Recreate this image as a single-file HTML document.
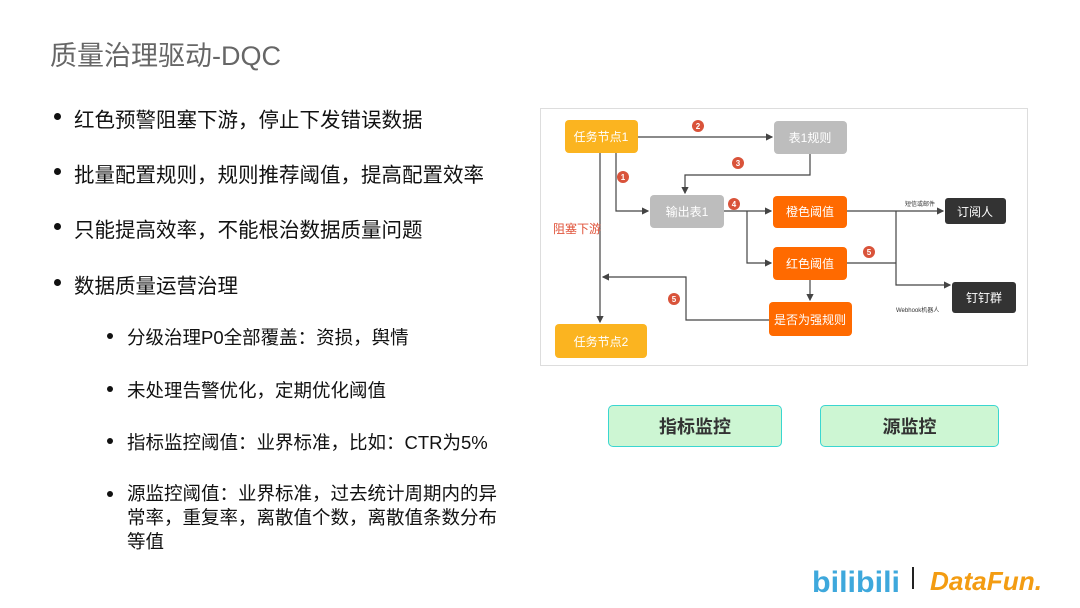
<!DOCTYPE html>
<html><head><meta charset="utf-8"><style>
body{margin:0;width:1080px;height:608px;background:#fff;position:relative;overflow:hidden;font-family:"Liberation Sans","Noto Sans CJK SC",sans-serif;}
.t{position:absolute;white-space:nowrap;color:#111;}
.h{left:50px;top:34px;font-size:27px;color:#666;}
.b{font-size:20.5px;left:74px;}
.d{position:absolute;width:7px;height:7px;border-radius:50%;background:#111;}
.s{font-size:18.5px;left:127px;}
.btn{position:absolute;height:40px;border:1.5px solid #3ad6d0;background:#cdf6d3;border-radius:5px;font-size:18px;font-weight:bold;color:#333;display:flex;align-items:center;justify-content:center;}
</style></head><body>
<div class="t h">质量治理驱动-DQC</div>
<div class="d" style="left:54px;top:113px"></div><div class="t b" style="top:103px">红色预警阻塞下游，停止下发错误数据</div>
<div class="d" style="left:54px;top:168px"></div><div class="t b" style="top:158px">批量配置规则，规则推荐阈值，提高配置效率</div>
<div class="d" style="left:54px;top:223px"></div><div class="t b" style="top:213px">只能提高效率，不能根治数据质量问题</div>
<div class="d" style="left:54px;top:279px"></div><div class="t b" style="top:269px">数据质量运营治理</div>
<div class="d" style="left:107px;top:333px;width:6px;height:6px"></div><div class="t s" style="top:324px">分级治理P0全部覆盖：资损，舆情</div>
<div class="d" style="left:107px;top:386px;width:6px;height:6px"></div><div class="t s" style="top:377px">未处理告警优化，定期优化阈值</div>
<div class="d" style="left:107px;top:438px;width:6px;height:6px"></div><div class="t s" style="top:429px">指标监控阈值：业界标准，比如：CTR为5%</div>
<div class="d" style="left:107px;top:491px;width:6px;height:6px"></div><div class="t s" style="top:482px;line-height:24px">源监控阈值：业界标准，过去统计周期内的异<br>常率，重复率，离散值个数，离散值条数分布<br>等值</div>

<svg style="position:absolute;left:0;top:0" width="1080" height="608" font-family="Liberation Sans,Noto Sans CJK SC,sans-serif">
<defs><marker id="a" markerWidth="6" markerHeight="6" refX="5" refY="3" orient="auto"><path d="M0,0L6,3L0,6z" fill="#444"/></marker></defs>
<rect x="540.5" y="108.5" width="487" height="257" fill="#fff" stroke="#ddd"/>
<g stroke="#444" stroke-width="1.2" fill="none" marker-end="url(#a)">
<path d="M638,137H772"/>
<path d="M600,153V322"/>
<path d="M616,153V211H648"/>
<path d="M810,154V175H685V193"/>
<path d="M724,211H771"/>
<path d="M747,211V263H771"/>
<path d="M847,211H943"/>
<path d="M896,211V285H950"/>
<path d="M810,280V300"/>
<path d="M769,320H686V277H603"/>
</g>
<path d="M847,263H896" stroke="#444" stroke-width="1.2"/>
<g font-size="12" fill="#fff" text-anchor="middle">
<rect x="565" y="120" width="73" height="33" rx="4" fill="#fbb420"/><text x="601" y="141">任务节点1</text>
<rect x="774" y="121" width="73" height="33" rx="4" fill="#bdbdbd"/><text x="810" y="142">表1规则</text>
<rect x="650" y="195" width="74" height="33" rx="4" fill="#bdbdbd"/><text x="687" y="216">输出表1</text>
<rect x="773" y="196" width="74" height="32" rx="4" fill="#ff6a00"/><text x="810" y="216">橙色阈值</text>
<rect x="773" y="247" width="74" height="33" rx="4" fill="#ff6a00"/><text x="810" y="268">红色阈值</text>
<rect x="769" y="302" width="83" height="34" rx="4" fill="#ff6a00"/><text x="810" y="324">是否为强规则</text>
<rect x="555" y="324" width="92" height="34" rx="4" fill="#fbb420"/><text x="601" y="346">任务节点2</text>
<rect x="945" y="198" width="61" height="26" rx="3" fill="#333"/><text x="975" y="216">订阅人</text>
<rect x="952" y="282" width="64" height="31" rx="3" fill="#333"/><text x="984" y="302">钉钉群</text>
</g>
<g font-size="8" font-weight="bold" fill="#fff" text-anchor="middle">
<circle cx="698" cy="126" r="6" fill="#d9533a"/><text x="698" y="129">2</text>
<circle cx="738" cy="163" r="6" fill="#d9533a"/><text x="738" y="166">3</text>
<circle cx="623" cy="177" r="6" fill="#d9533a"/><text x="623" y="180">1</text>
<circle cx="734" cy="204" r="6" fill="#d9533a"/><text x="734" y="207">4</text>
<circle cx="869" cy="252" r="6" fill="#d9533a"/><text x="869" y="255">5</text>
<circle cx="674" cy="299" r="6" fill="#d9533a"/><text x="674" y="302">5</text>
</g>
<text x="553" y="233" font-size="12" fill="#e0533a">阻塞下游</text>
<text x="905" y="206" font-size="6" fill="#333">短信或邮件</text>
<text x="896" y="312" font-size="6" fill="#333">Webhook机器人</text>
<text x="812" y="592" font-size="30" font-weight="bold" fill="#3ea8dc" textLength="88" lengthAdjust="spacingAndGlyphs">bilibili</text>
<rect x="912" y="567" width="2" height="22" fill="#222"/>
<text x="930" y="590" font-size="26" font-weight="bold" font-style="italic" fill="#f39c12" textLength="112" lengthAdjust="spacingAndGlyphs">DataFun.</text>
</svg>
<div class="btn" style="left:608px;top:405px;width:172px">指标监控</div>
<div class="btn" style="left:820px;top:405px;width:177px">源监控</div>
</body></html>
